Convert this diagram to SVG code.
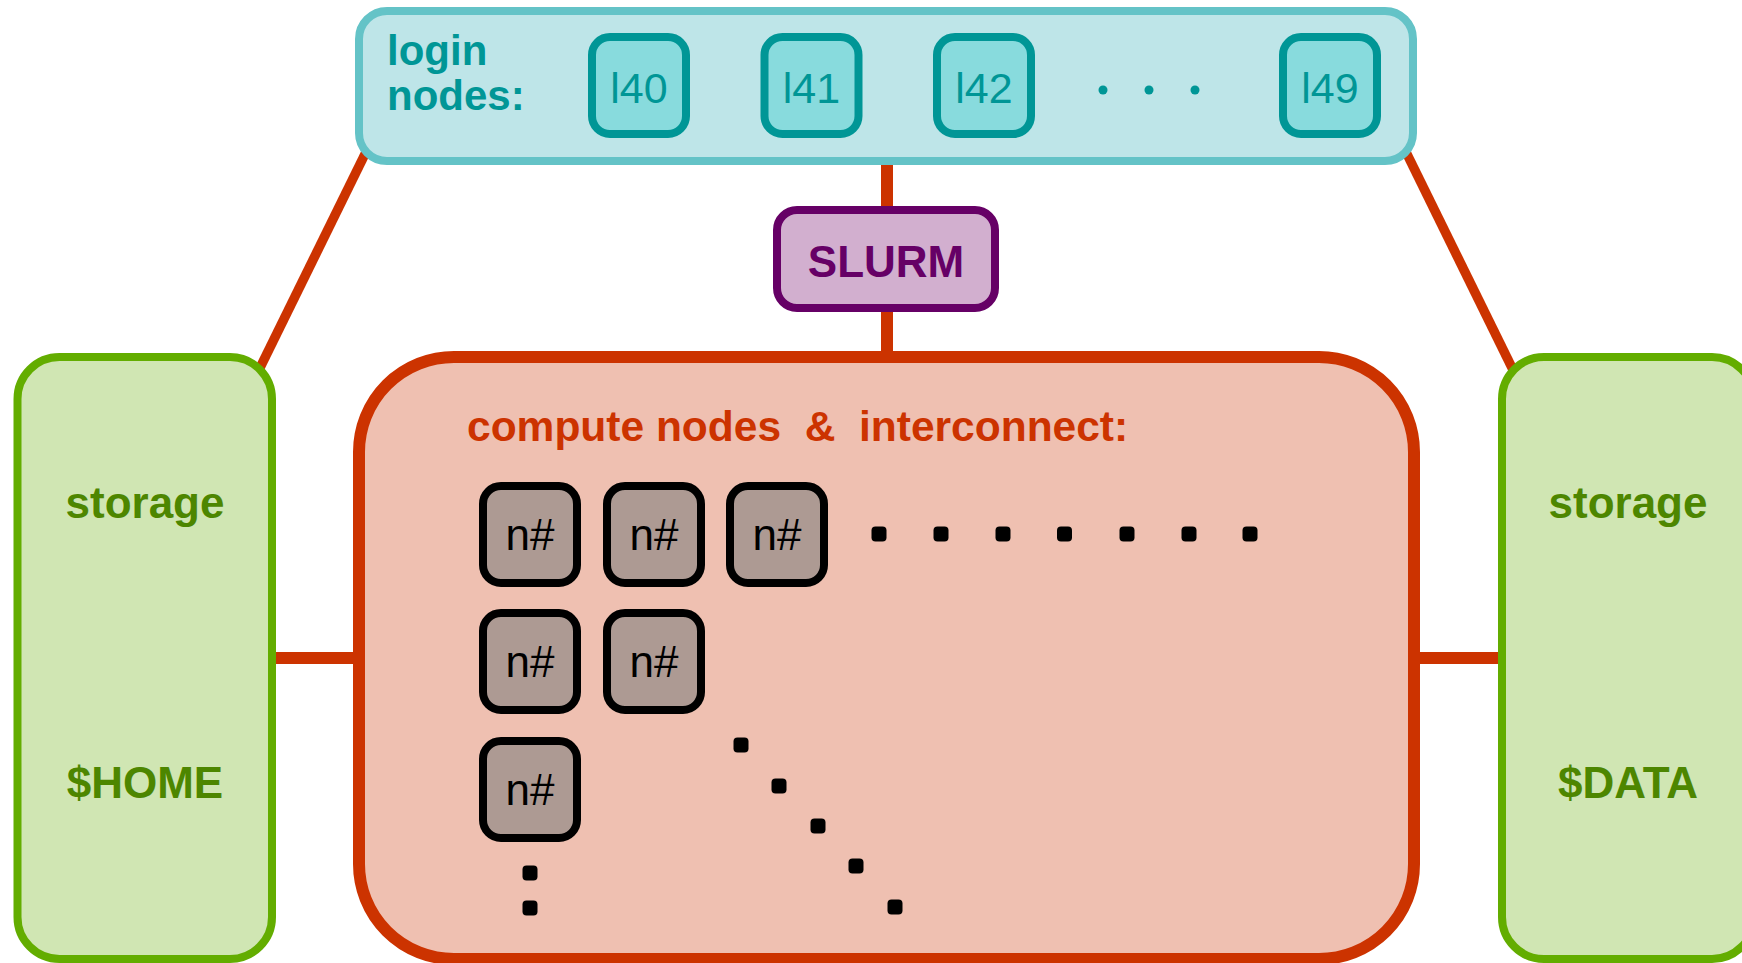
<svg xmlns="http://www.w3.org/2000/svg" width="1742" height="963" viewBox="0 0 1742 963">
<style>
.conn{stroke:#CC3300;stroke-width:9.5;fill:none}
.connw{stroke:#CC3300;stroke-width:12;fill:none}
.panel{fill:#BEE5E8;stroke:#64C3C7;stroke-width:8}
.lbox{fill:#88DBDD;stroke:#009696;stroke-width:8}
.ltxt{font-family:"Liberation Sans",Arial,sans-serif;font-size:43px;fill:#009696;text-anchor:middle}
.lhead{font-family:"Liberation Sans",Arial,sans-serif;font-size:42px;font-weight:bold;fill:#009696}
.store{fill:#D0E6B3;stroke:#63AD00;stroke-width:8}
.stxt{font-family:"Liberation Sans",Arial,sans-serif;font-size:44px;font-weight:bold;fill:#4D8600;text-anchor:middle}
.comp{fill:#EFC0B1;stroke:#CC3300;stroke-width:12}
.ctitle{font-family:"Liberation Sans",Arial,sans-serif;font-size:42.5px;font-weight:bold;fill:#CC3300;white-space:pre}
.nbox{fill:#AD9A93;stroke:#000;stroke-width:8}
.ntxt{font-family:"Liberation Sans",Arial,sans-serif;font-size:44px;fill:#000;text-anchor:middle}
.dot{fill:#000}
.ldot{fill:#009696}
</style>
<g id="connectors">
<line class="conn" x1="371.9" y1="140" x2="250.1" y2="388"/>
<line class="conn" x1="1400.1" y1="140" x2="1521.9" y2="388"/>
<line class="connw" x1="887" y1="160" x2="887" y2="358"/>
<line class="connw" x1="270" y1="658" x2="353" y2="658"/>
<line class="connw" x1="1420" y1="658" x2="1504" y2="658"/>
</g>
<g id="login-nodes">
<rect class="panel" x="359" y="11" width="1054" height="150" rx="28"/>
<text class="lhead" x="387" y="65">login</text>
<text class="lhead" x="387" y="110">nodes:</text>
<g id="l40"><rect class="lbox" x="592" y="37" width="94" height="97" rx="18"/><text class="ltxt" x="639" y="103">l40</text></g>
<g id="l41"><rect class="lbox" x="764.5" y="37" width="94" height="97" rx="18"/><text class="ltxt" x="811.5" y="103">l41</text></g>
<g id="l42"><rect class="lbox" x="937" y="37" width="94" height="97" rx="18"/><text class="ltxt" x="984" y="103">l42</text></g>
<circle class="ldot" cx="1103" cy="90" r="4.5"/>
<circle class="ldot" cx="1149" cy="90" r="4.5"/>
<circle class="ldot" cx="1195" cy="90" r="4.5"/>
<g id="l49"><rect class="lbox" x="1283" y="37" width="94" height="97" rx="18"/><text class="ltxt" x="1330" y="103">l49</text></g>
</g>
<g id="slurm">
<rect x="777" y="210" width="218" height="98" rx="20" fill="#D2AFCF" stroke="#660066" stroke-width="8"/>
<text x="886" y="277" font-family="'Liberation Sans',Arial,sans-serif" font-size="44" font-weight="bold" fill="#660066" text-anchor="middle">SLURM</text>
</g>
<g id="storage-home">
<rect class="store" x="17.5" y="357" width="254.5" height="602" rx="42"/>
<text class="stxt" x="145" y="518">storage</text>
<text class="stxt" x="145" y="798">$HOME</text>
</g>
<g id="storage-data">
<rect class="store" x="1502" y="357" width="252" height="602" rx="42"/>
<text class="stxt" x="1628" y="518">storage</text>
<text class="stxt" x="1628" y="798">$DATA</text>
</g>
<g id="compute">
<rect class="comp" x="359" y="357" width="1055" height="602" rx="95"/>
<text class="ctitle" x="467" y="441" xml:space="preserve">compute nodes  &amp;  interconnect:</text>
<g id="n1"><rect class="nbox" x="483" y="486" width="94" height="97" rx="18"/><text class="ntxt" x="530" y="550">n#</text></g>
<g id="n2"><rect class="nbox" x="607" y="486" width="94" height="97" rx="18"/><text class="ntxt" x="654" y="550">n#</text></g>
<g id="n3"><rect class="nbox" x="730" y="486" width="94" height="97" rx="18"/><text class="ntxt" x="777" y="550">n#</text></g>
<g id="n4"><rect class="nbox" x="483" y="613" width="94" height="97" rx="18"/><text class="ntxt" x="530" y="677">n#</text></g>
<g id="n5"><rect class="nbox" x="607" y="613" width="94" height="97" rx="18"/><text class="ntxt" x="654" y="677">n#</text></g>
<g id="n6"><rect class="nbox" x="483" y="741" width="94" height="97" rx="18"/><text class="ntxt" x="530" y="805">n#</text></g>
<g id="dots">
<rect class="dot" x="871.5" y="526.5" width="15" height="15" rx="4"/>
<rect class="dot" x="933.5" y="526.5" width="15" height="15" rx="4"/>
<rect class="dot" x="995.5" y="526.5" width="15" height="15" rx="4"/>
<rect class="dot" x="1057" y="526.5" width="15" height="15" rx="4"/>
<rect class="dot" x="1119.5" y="526.5" width="15" height="15" rx="4"/>
<rect class="dot" x="1181.5" y="526.5" width="15" height="15" rx="4"/>
<rect class="dot" x="1242.5" y="526.5" width="15" height="15" rx="4"/>
<rect class="dot" x="522.5" y="865.5" width="15" height="15" rx="4"/>
<rect class="dot" x="522.5" y="900.5" width="15" height="15" rx="4"/>
<rect class="dot" x="733.5" y="737.5" width="15" height="15" rx="4"/>
<rect class="dot" x="771.5" y="778.5" width="15" height="15" rx="4"/>
<rect class="dot" x="810.5" y="818.5" width="15" height="15" rx="4"/>
<rect class="dot" x="848.5" y="858.5" width="15" height="15" rx="4"/>
<rect class="dot" x="887.5" y="899.5" width="15" height="15" rx="4"/>
</g>
</g>
</svg>
